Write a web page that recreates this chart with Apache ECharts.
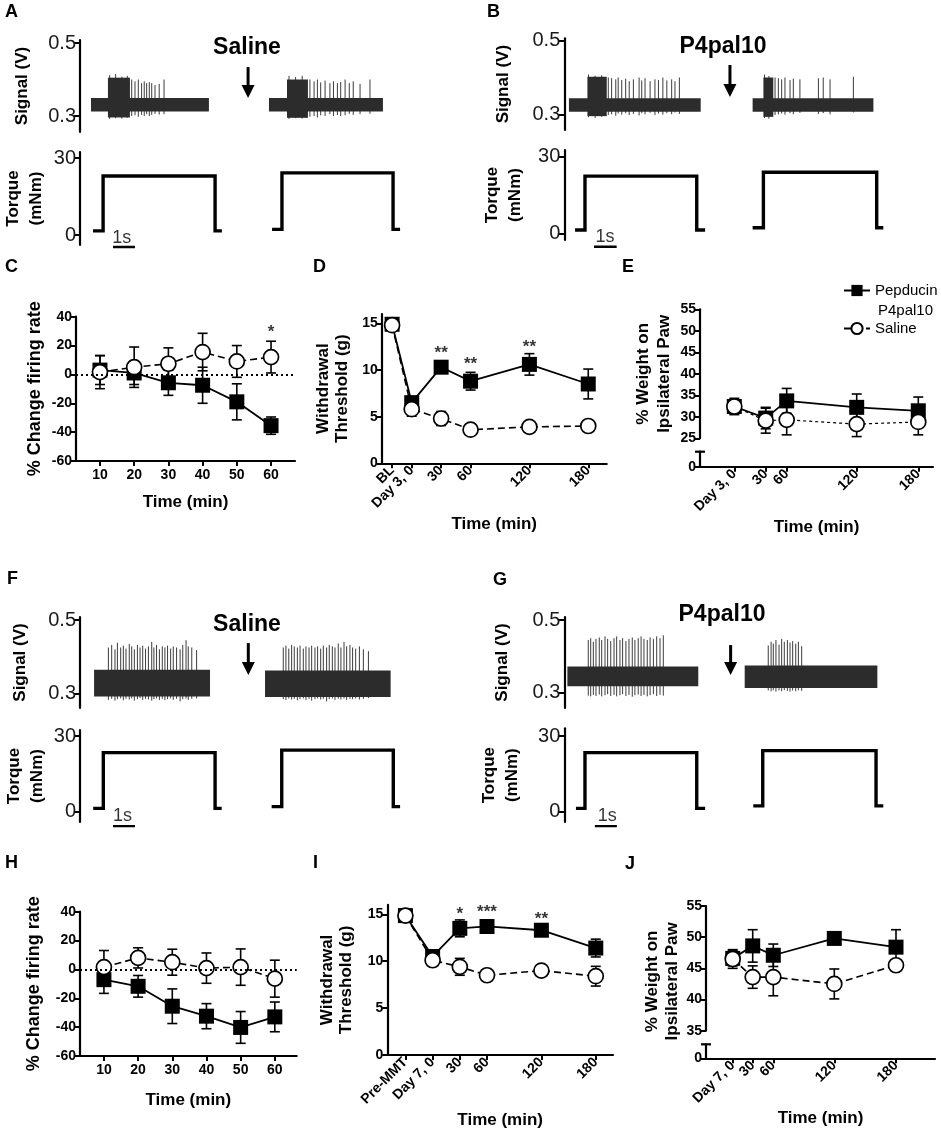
<!DOCTYPE html>
<html>
<head>
<meta charset="utf-8">
<script src="https://cdn.jsdelivr.net/npm/echarts@6/dist/echarts.min.js"></script>
<style>
html, body { margin: 0; padding: 0; background: #fff; }
#main { width: 941px; height: 1135px; }
</style>
</head>
<body>
<div id="main"></div>
<script>
const FONT = '"Liberation Sans", Arial, Helvetica, sans-serif'

// ---- C / H : % change firing rate
const fireTimes = [10, 20, 30, 40, 50, 60]
const cPep = [3, 1, -5.8, -7.5, -19, -35.5]
const cPepErr = [10, 8, 8.7, 12.5, 12.5, 6]
const cSal = [1.6, 5, 7.4, 15.5, 9, 12]
const cSalErr = [11.5, 14, 11, 13, 11, 11]
const cStars = [[60, 32, '*']]
const hPep = [-7.1, -11.7, -25.5, -32.4, -40.2, -32.9]
const hPepErr = [9.5, 7.5, 12, 8.7, 11, 10.3]
const hSal = [1.6, 8, 5, 0.9, 1.6, -6.4]
const hSalErr = [11.5, 7, 9, 10.5, 12.6, 12.8]

// ---- D / I : withdrawal threshold
const dTimes = [-20, 0, 30, 60, 120, 180]
const dLabels = ['BL', 'Day 3, 0', '30', '60', '120', '180']
const dPep = [14.9, 6.5, 10.3, 8.8, 10.6, 8.5]
const dPepErr = [0.3, 0.5, 0.5, 0.95, 1.15, 1.6]
const dSal = [14.8, 5.8, 4.8, 3.6, 3.9, 4.0]
const dSalErr = [0.3, 0.75, 0.75, 0.3, 0.3, 0.3]
const dStars = [[30, 12.2, '**'], [60, 11.0, '**'], [120, 12.9, '**']]
const iTimes = [-30, 0, 30, 60, 120, 180]
const iLabels = ['Pre-MMT', 'Day 7, 0', '30', '60', '120', '180']
const iPep = [14.86, 10.5, 13.5, 13.7, 13.3, 11.4]
const iPepErr = [0.3, 0.6, 0.9, 0.4, 0.4, 0.95]
const iSal = [14.86, 10.1, 9.4, 8.5, 9.0, 8.4]
const iSalErr = [0.3, 0.6, 0.9, 0.6, 0.6, 1.05]
const iStars = [[30, 15.4, '*'], [60, 15.6, '***'], [120, 14.85, '**']]

// ---- E / J : % weight on ipsilateral paw
const eTimes = [0, 30, 60, 120, 180]
const eLabels = ['Day 3, 0', '30', '60', '120', '180']
const ePep = [32.4, 29.7, 33.7, 32.2, 31.4]
const ePepErr = [1.9, 2.5, 2.9, 3.1, 3.2]
const eSal = [32.4, 29.1, 29.3, 28.3, 28.8]
const eSalErr = [1.5, 2.9, 3.5, 2.9, 3.0]
const jTimes = [0, 30, 60, 120, 180]
const jLabels = ['Day 7, 0', '30', '60', '120', '180']
const jPep = [46.6, 48.6, 47.1, 49.8, 48.4]
const jPepErr = [1.2, 2.6, 1.8, 0.8, 2.8]
const jSal = [46.5, 43.6, 43.6, 42.5, 45.5]
const jSalErr = [1.5, 1.8, 3.0, 2.4, 0.6]
// the time axis of E and J is drawn unevenly: time -> axis position
const eKnots = [[0, 34.3], [30, 65.7], [60, 86.7], [120, 156.7], [180, 218.3]]
const jKnots = [[0, 26.7], [30, 46.7], [60, 67.3], [120, 128.3], [180, 190]]

// ---- recordings (time in s, signal in V): noise band, burst block, spikes [t, low, high]
const aBand = [[0.5, 5.86, 0.312, 0.349], [8.59, 13.77, 0.312, 0.349]]
const aBurst = [[1.27, 2.27, 0.296, 0.405], [9.41, 10.36, 0.295, 0.400]]
const aSpikes = [[1.35,0.292,0.412],[1.62,0.294,0.415],[1.9,0.293,0.408],[2.15,0.295,0.41],[9.5,0.292,0.41],[9.8,0.294,0.407],[10.1,0.293,0.41],
  [2.35,0.300,0.400],[2.50,0.302,0.395],[2.65,0.298,0.400],[2.80,0.303,0.390],[2.92,0.300,0.395],[3.03,0.305,0.390],[3.15,0.300,0.393],[3.26,0.303,0.390],[3.41,0.306,0.385],[3.60,0.304,0.388],[3.82,0.305,0.400],
  [10.45,0.298,0.400],[10.64,0.300,0.395],[10.79,0.296,0.400],[10.94,0.302,0.392],[11.14,0.300,0.397],[11.36,0.305,0.390],[11.52,0.300,0.395],[11.70,0.303,0.390],[11.85,0.300,0.393],[12.05,0.302,0.400],[12.24,0.306,0.390],[12.42,0.303,0.395],[12.73,0.305,0.388],[13.18,0.306,0.400]]
const bBand = [[0.21, 6.2, 0.307, 0.3435], [8.56, 14.05, 0.307, 0.3435]]
const bBurst = [[1.05, 1.93, 0.295, 0.402], [9.05, 9.5, 0.293, 0.400]]
const bSpikes = [[1.1,0.292,0.408],[1.4,0.29,0.405],[1.7,0.293,0.406],[9.1,0.29,0.408],[9.3,0.288,0.404],
  [2.0,0.298,0.400],[2.15,0.300,0.398],[2.34,0.296,0.395],[2.45,0.302,0.400],[2.61,0.299,0.393],[2.79,0.303,0.397],[2.95,0.298,0.390],[3.14,0.301,0.395],[3.4,0.297,0.400],[3.52,0.303,0.392],[3.67,0.300,0.398],[3.9,0.304,0.390],[4.12,0.298,0.395],[4.28,0.302,0.393],[4.48,0.299,0.400],[4.66,0.303,0.392],[4.88,0.300,0.395],[5.03,0.305,0.390],[5.23,0.301,0.400],
  [9.58,0.298,0.400],[9.73,0.300,0.398],[9.88,0.302,0.395],[10.03,0.299,0.400],[10.26,0.303,0.393],[10.41,0.300,0.397],[10.71,0.304,0.395],[11.55,0.301,0.398],[11.77,0.303,0.400],[12.08,0.300,0.395],[13.14,0.305,0.402]]
const fBand = [[0.64, 5.91, 0.291, 0.364], [8.41, 14.12, 0.29, 0.362]]
const fBurst = []
const fSpikes = [[1.29,0.282,0.425],[1.44,0.285,0.432],[1.59,0.280,0.420],[1.70,0.284,0.438],[1.85,0.286,0.425],[1.97,0.281,0.430],[2.09,0.285,0.422],[2.24,0.283,0.435],[2.35,0.286,0.428],[2.47,0.280,0.420],[2.61,0.284,0.432],[2.73,0.287,0.425],[2.85,0.282,0.430],[2.98,0.285,0.422],[3.11,0.283,0.428],[3.26,0.280,0.440],[3.36,0.284,0.425],[3.48,0.286,0.432],[3.61,0.282,0.420],[3.74,0.285,0.428],[3.86,0.281,0.425],[3.98,0.284,0.430],[4.12,0.286,0.422],[4.24,0.282,0.428],[4.39,0.285,0.425],[4.55,0.278,0.420],[4.67,0.284,0.432],[4.82,0.286,0.445],[4.92,0.282,0.428],[5.08,0.285,0.425],[5.30,0.286,0.418],
  [9.24,0.284,0.425],[9.36,0.282,0.430],[9.49,0.286,0.422],[9.62,0.283,0.432],[9.74,0.285,0.428],[9.88,0.281,0.425],[10.0,0.284,0.430],[10.15,0.286,0.422],[10.27,0.282,0.428],[10.41,0.285,0.425],[10.53,0.280,0.430],[10.68,0.284,0.425],[10.8,0.286,0.428],[10.94,0.283,0.422],[11.06,0.285,0.430],[11.21,0.278,0.425],[11.33,0.284,0.432],[11.47,0.286,0.428],[11.59,0.282,0.425],[11.74,0.285,0.436],[11.86,0.283,0.425],[12.0,0.286,0.440],[12.12,0.282,0.428],[12.27,0.285,0.432],[12.39,0.284,0.425],[12.53,0.286,0.422],[12.7,0.283,0.428],[12.88,0.285,0.420],[13.11,0.287,0.415]]
const gBand = [[0.14, 6.09, 0.318, 0.372], [8.2, 14.23, 0.313, 0.375]]
const gBurst = []
const gSpikes = [[1.09,0.292,0.445],[1.2,0.290,0.450],[1.32,0.294,0.440],[1.44,0.291,0.448],[1.59,0.295,0.452],[1.7,0.290,0.445],[1.85,0.293,0.455],[1.97,0.296,0.448],[2.11,0.291,0.442],[2.26,0.294,0.450],[2.38,0.290,0.455],[2.53,0.293,0.445],[2.65,0.296,0.450],[2.8,0.291,0.442],[2.94,0.294,0.448],[3.09,0.289,0.452],[3.21,0.293,0.445],[3.36,0.295,0.450],[3.49,0.291,0.455],[3.62,0.294,0.448],[3.77,0.290,0.445],[3.9,0.293,0.452],[4.05,0.296,0.448],[4.2,0.291,0.455],[4.35,0.294,0.450],[4.5,0.292,0.458],
  [9.27,0.306,0.430],[9.4,0.304,0.440],[9.5,0.307,0.435],[9.62,0.303,0.445],[9.76,0.306,0.432],[9.88,0.304,0.448],[10.0,0.307,0.440],[10.14,0.305,0.445],[10.26,0.303,0.438],[10.38,0.306,0.442],[10.52,0.304,0.435],[10.64,0.307,0.440],[10.79,0.305,0.428]]
// torque steps [t, mNm]
const aTorque = [[[0.59,1.6],[1.05,1.6],[1.05,23],[6.14,23],[6.14,1.6],[6.45,1.6]], [[8.73,2.2],[9.18,2.2],[9.18,24.2],[14.23,24.2],[14.23,2.2],[14.55,2.2]]]
const bTorque = [[[0.49,1.3],[0.94,1.3],[0.94,22.4],[6.02,22.4],[6.02,1.3],[6.4,1.3]], [[8.56,2.2],[9.05,2.2],[9.05,23.9],[14.2,23.9],[14.2,2.2],[14.5,2.2]]]
const fTorque = [[[0.6,1.3],[1.06,1.3],[1.06,23.4],[6.14,23.4],[6.14,1.3],[6.44,1.3]], [[8.71,2.0],[9.17,2.0],[9.17,24.4],[14.24,24.4],[14.24,2.0],[14.55,2.0]]]
const gTorque = [[[0.53,1.3],[0.94,1.3],[0.94,23.4],[6.02,23.4],[6.02,1.3],[6.4,1.3]], [[8.59,2.3],[9.02,2.3],[9.02,24.2],[14.17,24.2],[14.17,2.3],[14.5,2.3]]]

const chart = echarts.init(document.getElementById('main'))
const grids = [], xAxes = [], yAxes = [], series = []

function addGrid(g, x, y) {
    grids.push(Object.assign({outerBoundsMode: 'none', containLabel: false}, g))
    const i = grids.length - 1
    xAxes.push(Object.assign({gridIndex: i}, x))
    yAxes.push(Object.assign({gridIndex: i}, y))
    return i
}

function warp(knots) {
    return t => {
        for (let i = 0; i < knots.length - 1; i++) {
            const a = knots[i], b = knots[i + 1]
            if (t <= b[0]) return a[1] + (t - a[0]) * (b[1] - a[1]) / (b[0] - a[0])
        }
        return knots[knots.length - 1][1]
    }
}

function labelAt(pos, labels) {
    return v => {
        const i = pos.findIndex(p => Math.abs(p - v) < 1e-6)
        return i < 0 ? '' : labels[i]
    }
}

const LINE = {show: true, onZero: false, lineStyle: {color: '#000', width: 2.2}}
const TICK = {show: true, length: 5, lineStyle: {color: '#000', width: 2}}
const boldLabel = (extra) => Object.assign({fontSize: 14, fontWeight: 'bold', fontFamily: FONT, color: '#000', margin: 4}, extra)
const nameStyle = (size, lh, extra) => Object.assign({fontSize: size, fontWeight: 'bold', fontFamily: FONT, color: '#000', lineHeight: lh}, extra)

//---------- trace panels (A, B, F, G)
function bandSeries(gi, rects) {
    return {
        type: 'custom', xAxisIndex: gi, yAxisIndex: gi, silent: true, z: 2,
        data: rects,
        renderItem: (p, api) => {
            const a = api.coord([api.value(0), api.value(3)])
            const b = api.coord([api.value(1), api.value(2)])
            return {type: 'rect', shape: {x: a[0], y: a[1], width: b[0] - a[0], height: b[1] - a[1]}, style: {fill: '#2c2c2c'}}
        }
    }
}
function spikeSeries(gi, spikes) {
    return {
        type: 'custom', xAxisIndex: gi, yAxisIndex: gi, silent: true, z: 1,
        data: spikes,
        renderItem: (p, api) => {
            const a = api.coord([api.value(0), api.value(2)])
            const b = api.coord([api.value(0), api.value(1)])
            return {type: 'line', shape: {x1: a[0], y1: a[1], x2: b[0], y2: b[1]}, style: {stroke: '#3c3c3c', lineWidth: 1}}
        }
    }
}
function arrowSeries(gi, arrow) {
    return {
        type: 'custom', xAxisIndex: gi, yAxisIndex: gi, silent: true, z: 3,
        data: [arrow],
        renderItem: (p, api) => {
            const a = api.coord([api.value(0), api.value(1)])
            const b = api.coord([api.value(0), api.value(2)])
            return {type: 'group', children: [
                {type: 'line', shape: {x1: a[0], y1: a[1], x2: b[0], y2: b[1] - 10}, style: {stroke: '#000', lineWidth: 3}},
                {type: 'polygon', shape: {points: [[b[0] - 6.5, b[1] - 13], [b[0] + 6.5, b[1] - 13], [b[0], b[1]]]}, style: {fill: '#000'}}
            ]}
        }
    }
}

function tracePanel(geo, band, burst, spikes, torque, arrow, bar, barText) {
    const sScale = (geo.s03 - geo.s05) / 0.2
    const tScale = (geo.t0 - geo.t30) / 30
    const traceX = {type: 'value', min: 0, max: 15, show: false}
    const yStyle = (ticks) => ({
        type: 'value', axisLine: LINE, splitLine: {show: false},
        axisTick: {show: true, length: 6, lineStyle: {color: '#000', width: 2}, customValues: ticks},
        axisLabel: {customValues: ticks, fontSize: 20, fontFamily: FONT, color: '#1a1a1a', margin: 4, formatter: v => String(v)},
        nameLocation: 'middle', nameRotate: 90
    })
    const gs = addGrid({left: geo.ax, top: geo.sTop, width: 330, height: geo.sBot - geo.sTop}, traceX,
        Object.assign(yStyle([0.3, 0.5]), {
            min: 0.3 - (geo.sBot - geo.s03) / sScale, max: 0.5 + (geo.s05 - geo.sTop) / sScale,
            name: 'Signal (V)', nameGap: geo.sGap, nameTextStyle: nameStyle(17, 20)
        }))
    const gt = addGrid({left: geo.ax, top: geo.tTop, width: 330, height: geo.tBot - geo.tTop}, traceX,
        Object.assign(yStyle([0, 30]), {
            min: -(geo.tBot - geo.t0) / tScale, max: 30 + (geo.t30 - geo.tTop) / tScale,
            name: 'Torque\n(mNm)', nameGap: geo.tGap, nameTextStyle: nameStyle(17, 23)
        }))
    series.push(bandSeries(gs, band), spikeSeries(gs, spikes), bandSeries(gs, burst), arrowSeries(gs, arrow))
    torque.forEach(seg => series.push({
        type: 'line', xAxisIndex: gt, yAxisIndex: gt, data: seg, symbol: 'none', silent: true,
        lineStyle: {color: '#000', width: 3.4, join: 'miter'}
    }))
    series.push({
        type: 'line', xAxisIndex: gt, yAxisIndex: gt, data: bar, symbol: 'none', clip: false, silent: true,
        lineStyle: {color: '#000', width: 2.4}
    })
    series.push({
        type: 'scatter', xAxisIndex: gt, yAxisIndex: gt, data: [barText], symbolSize: 0, silent: true,
        label: {show: true, position: 'inside', formatter: '1s', fontSize: 18, fontFamily: FONT, color: '#000'}
    })
}

tracePanel({ax: 80, sTop: 40, s05: 43, s03: 116, sBot: 132, tTop: 152, t30: 158, t0: 235, tBot: 245, sGap: 48, tGap: 32},
    aBand, aBurst, aSpikes, aTorque, [7.64, 0.434, 0.349], [[1.5, -4.7], [2.5, -4.7]], [1.9, -1.2])
tracePanel({ax: 564.3, sTop: 38.3, s05: 40.7, s03: 114.3, sBot: 130, tTop: 150, t30: 156.7, t0: 233.3, tBot: 240, sGap: 51, tGap: 37},
    bBand, bBurst, bSpikes, bTorque, [7.53, 0.434, 0.347], [[1.35, -5.25], [2.38, -5.25]], [1.85, -1.45])

//---------- summary panels
function errSeries(gi, xs, ys, es) {
    return {
        type: 'custom', xAxisIndex: gi, yAxisIndex: gi, silent: true, z: 2,
        data: xs.map((x, i) => [x, ys[i], es[i]]),
        renderItem: (p, api) => {
            const x = api.value(0), y = api.value(1), e = api.value(2)
            const t = api.coord([x, y + e]), b = api.coord([x, y - e])
            const st = {stroke: '#000', lineWidth: 1.6}
            return {type: 'group', children: [
                {type: 'line', shape: {x1: t[0], y1: t[1], x2: b[0], y2: b[1]}, style: st},
                {type: 'line', shape: {x1: t[0] - 5, y1: t[1], x2: t[0] + 5, y2: t[1]}, style: st},
                {type: 'line', shape: {x1: b[0] - 5, y1: b[1], x2: b[0] + 5, y2: b[1]}, style: st}
            ]}
        }
    }
}
function pepSeries(gi, xs, ys, extra) {
    return Object.assign({
        type: 'line', name: 'Pepducin P4pal10', xAxisIndex: gi, yAxisIndex: gi, z: 3,
        data: xs.map((x, i) => [x, ys[i]]), symbol: 'rect', symbolSize: 15,
        lineStyle: {color: '#000', width: 1.8}, itemStyle: {color: '#000'}
    }, extra || {})
}
function salSeries(gi, xs, ys, dash, width) {
    return {
        type: 'line', name: 'Saline', xAxisIndex: gi, yAxisIndex: gi, z: 4,
        data: xs.map((x, i) => [x, ys[i]]), symbol: 'circle', symbolSize: 15,
        lineStyle: {color: '#000', width: width || 1.6, type: dash},
        itemStyle: {color: '#fff', borderColor: '#000', borderWidth: 1.7}
    }
}
function starSeries(gi, stars) {
    return {
        type: 'scatter', xAxisIndex: gi, yAxisIndex: gi, data: stars, symbolSize: 0, silent: true, z: 5,
        label: {show: true, position: 'inside', offset: [0, 4], formatter: p => p.data[2], fontSize: 17, fontWeight: 'bold', fontFamily: FONT, color: '#000'}
    }
}
const zeroLine = {silent: true, symbol: 'none', label: {show: false}, data: [{yAxis: 0}], lineStyle: {type: [2, 3], color: '#000', width: 2}}

function firingPanel(geo, pep, pepErr, sal, salErr, stars) {
    const g = addGrid({left: geo.left, top: geo.top, width: geo.width, height: geo.height},
        {type: 'value', min: geo.xmin, max: geo.xmax, axisLine: LINE, splitLine: {show: false},
            axisTick: Object.assign({customValues: fireTimes}, TICK), axisLabel: boldLabel({customValues: fireTimes, margin: 7}),
            name: 'Time (min)', nameLocation: 'middle', nameGap: geo.xGap, nameTextStyle: nameStyle(17, 20)},
        {type: 'value', min: -60, max: 40, interval: 20, axisLine: LINE, axisTick: TICK, splitLine: {show: false},
            axisLabel: boldLabel(), name: '% Change firing rate', nameLocation: 'middle', nameRotate: 90, nameGap: geo.yGap,
            nameTextStyle: nameStyle(18, 20)})
    series.push(errSeries(g, fireTimes, pep, pepErr), errSeries(g, fireTimes, sal, salErr),
        pepSeries(g, fireTimes, pep, {markLine: zeroLine}), salSeries(g, fireTimes, sal, [7, 4]))
    if (stars) series.push(starSeries(g, stars))
}

function thresholdPanel(geo, times, labels, pep, pepErr, sal, salErr, stars) {
    const g = addGrid({left: geo.left, top: geo.top, width: geo.width, height: geo.height},
        {type: 'value', min: geo.xmin, max: geo.xmax, axisLine: LINE, splitLine: {show: false},
            axisTick: Object.assign({customValues: times}, TICK),
            axisLabel: boldLabel({customValues: times, rotate: 45, margin: 5, formatter: labelAt(times, labels)}),
            name: 'Time (min)', nameLocation: 'middle', nameGap: geo.xGap, nameTextStyle: nameStyle(17, 20)},
        {type: 'value', min: 0, max: 16, axisLine: LINE, splitLine: {show: false},
            axisTick: Object.assign({customValues: [0, 5, 10, 15]}, TICK), axisLabel: boldLabel({customValues: [0, 5, 10, 15]}),
            name: 'Withdrawal\nThreshold (g)', nameLocation: 'middle', nameRotate: 90, nameGap: geo.yGap,
            nameTextStyle: nameStyle(17, 19)})
    series.push(errSeries(g, times, pep, pepErr), errSeries(g, times, sal, salErr),
        pepSeries(g, times, pep), salSeries(g, times, sal, [7, 4]), starSeries(g, stars))
}

function weightPanel(geo, times, labels, knots, pep, pepErr, sal, salErr, dash, width) {
    const w = warp(knots)
    const xs = times.map(w)
    const g = addGrid({left: geo.left, top: geo.top, width: geo.width, height: geo.bot - geo.top},
        {type: 'value', min: 0, max: geo.width, show: false},
        {type: 'value', min: geo.ymin, max: 55, interval: 5, axisLine: LINE, axisTick: TICK, splitLine: {show: false},
            axisLabel: boldLabel(), name: '% Weight on\nIpsilateral Paw', nameLocation: 'middle', nameRotate: 90,
            nameGap: geo.yGap, nameTextStyle: nameStyle(17, geo.lh, {padding: geo.namePad})})
    addGrid({left: geo.left, top: geo.capY, width: geo.width, height: geo.zeroY - geo.capY},
        {type: 'value', min: 0, max: geo.width, axisLine: LINE, splitLine: {show: false},
            axisTick: Object.assign({customValues: xs}, TICK),
            axisLabel: boldLabel({customValues: xs, rotate: 45, margin: 5, formatter: labelAt(xs, labels)}),
            name: 'Time (min)', nameLocation: 'middle', nameGap: geo.xGap, nameTextStyle: nameStyle(17, 20)},
        {type: 'value', min: 0, max: 1, axisLine: LINE, splitLine: {show: false},
            axisTick: Object.assign({customValues: [0]}, TICK), axisLabel: boldLabel({customValues: [0]})})
    series.push(errSeries(g, xs, pep, pepErr), errSeries(g, xs, sal, salErr),
        pepSeries(g, xs, pep), salSeries(g, xs, sal, dash, width))
}

firingPanel({left: 76, top: 316.7, width: 219, height: 144.3, xmin: 3, xmax: 67, xGap: 31, yGap: 31},
    cPep, cPepErr, cSal, cSalErr, cStars)
thresholdPanel({left: 381.7, top: 314, width: 225, height: 149.3, xmin: -30.6, xmax: 198.8, xGap: 51, yGap: 30},
    dTimes, dLabels, dPep, dPepErr, dSal, dSalErr, dStars)
weightPanel({left: 700, top: 309.3, bot: 438.3, width: 233, capY: 451.7, zeroY: 466.7, ymin: 25, yGap: 25.5, lh: 21, namePad: [0, 0, 0, 0], xGap: 48},
    eTimes, eLabels, eKnots, ePep, ePepErr, eSal, eSalErr, [3, 3], 1.2)

tracePanel({ax: 80, sTop: 617, s05: 620, s03: 693.3, sBot: 708, tTop: 730, t30: 736, t0: 811.7, tBot: 822, sGap: 50, tGap: 31},
    fBand, fBurst, fSpikes, fTorque, [7.65, 0.437, 0.35], [[1.5, -5.7], [2.5, -5.7]], [1.93, -1.7])
tracePanel({ax: 564.3, sTop: 617, s05: 620, s03: 692.7, sBot: 708, tTop: 728.3, t30: 736, t0: 811.7, tBot: 822, sGap: 52, tGap: 40},
    gBand, gBurst, gSpikes, gTorque, [7.56, 0.431, 0.349], [[1.39, -5.7], [2.39, -5.7]], [1.95, -1.7])

firingPanel({left: 80, top: 911.7, width: 216.7, height: 144.3, xmin: 3, xmax: 66.4, xGap: 34, yGap: 36},
    hPep, hPepErr, hSal, hSalErr, null)
thresholdPanel({left: 387.3, top: 904.9, width: 225.7, height: 150.1, xmin: -50, xmax: 199, xGap: 55, yGap: 31},
    iTimes, iLabels, iPep, iPepErr, iSal, iSalErr, iStars)
weightPanel({left: 706, top: 906, bot: 1030.7, width: 229, capY: 1044.3, zeroY: 1058.3, ymin: 35, yGap: 23.5, lh: 20, namePad: [0, 26, 0, 0], xGap: 45},
    jTimes, jLabels, jKnots, jPep, jPepErr, jSal, jSalErr, [7, 4], 1.6)

const letter = (t, x, y) => ({type: 'text', x, y, silent: true,
    style: {text: t, font: 'bold 18px ' + FONT, fill: '#000', align: 'left', verticalAlign: 'middle'}})
const heading = (t, x, y) => ({type: 'text', x, y, silent: true,
    style: {text: t, font: 'bold 23px ' + FONT, fill: '#000', align: 'center', verticalAlign: 'middle'}})
const plain = (t, x, y) => ({type: 'text', x, y, silent: true,
    style: {text: t, font: '15px ' + FONT, fill: '#000', align: 'left', verticalAlign: 'middle'}})
const cap = (x, y) => ({type: 'line', silent: true, shape: {x1: x - 5, y1: y, x2: x + 5, y2: y}, style: {stroke: '#000', lineWidth: 2.2}})

chart.setOption({
    animation: false,
    backgroundColor: '#fff',
    textStyle: {fontFamily: FONT},
    grid: grids,
    xAxis: xAxes,
    yAxis: yAxes,
    series: series,
    legend: [
        {data: ['Pepducin P4pal10'], left: 843, top: 283, padding: 0, orient: 'vertical', selectedMode: false,
            itemWidth: 26, itemHeight: 14, formatter: () => 'Pepducin',
            textStyle: {fontSize: 15, fontFamily: FONT, color: '#000'}},
        {data: ['Saline'], left: 843, top: 321, padding: 0, orient: 'vertical', selectedMode: false,
            itemWidth: 26, itemHeight: 14, textStyle: {fontSize: 15, fontFamily: FONT, color: '#000'}}
    ],
    graphic: [
        letter('A', 5, 12), letter('B', 487, 12), letter('C', 5, 267), letter('D', 313, 267), letter('E', 622, 267),
        letter('F', 7, 579), letter('G', 493, 580), letter('H', 5, 863), letter('I', 313, 863), letter('J', 625, 864),
        heading('Saline', 247, 48), heading('P4pal10', 723, 47), heading('Saline', 247, 625), heading('P4pal10', 722, 615),
        plain('P4pal10', 878, 311),
        cap(700, 451.7), cap(706, 1044.3)
    ]
})
</script>
</body>
</html>
